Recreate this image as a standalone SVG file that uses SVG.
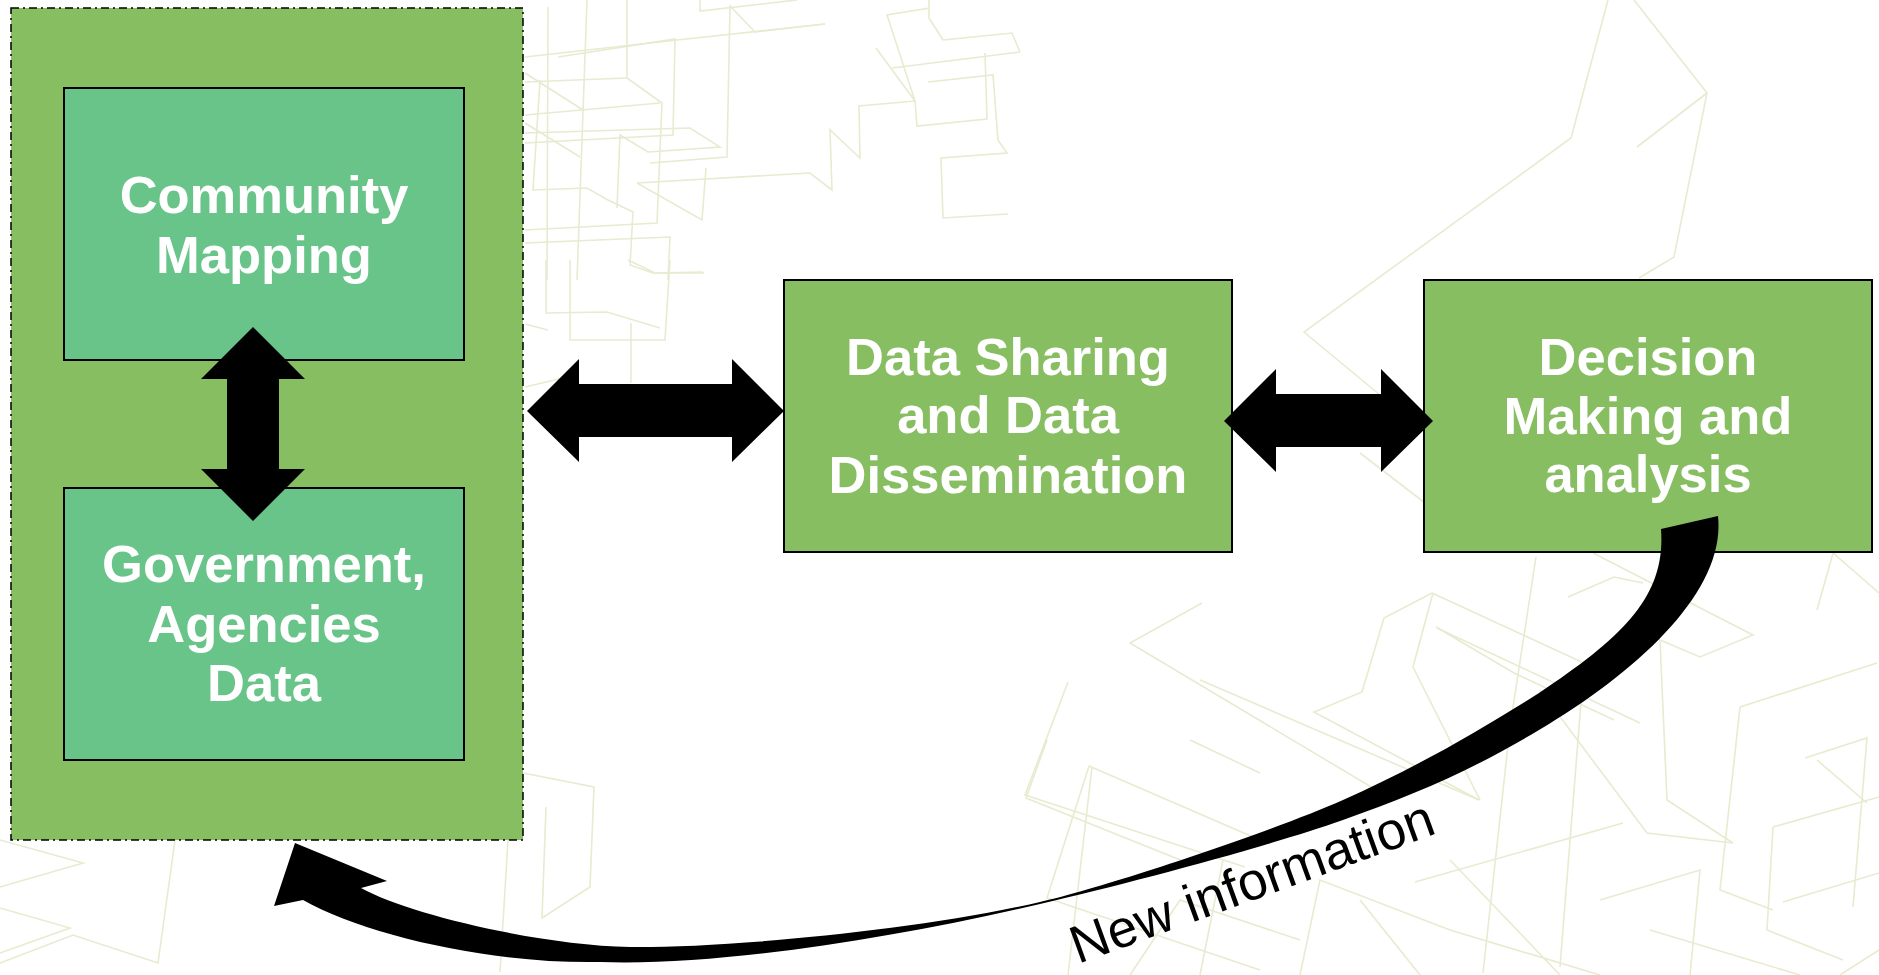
<svg xmlns="http://www.w3.org/2000/svg" width="1879" height="975" viewBox="0 0 1879 975">
<defs>
<style>
.bg{fill:none;stroke:#E7EBD0;stroke-width:1.6;stroke-linejoin:miter}
.box{fill:#88BE62;stroke:#000;stroke-width:2}
.inner{fill:#69C48A;stroke:#000;stroke-width:2}
.lbl{font-family:"Liberation Sans",Arial,sans-serif;font-weight:bold;font-size:52.5px;fill:#fff;text-anchor:middle}
.arrow{fill:#000;stroke:none}
.note{font-family:"Liberation Sans",Arial,sans-serif;font-size:53px;fill:#000}
</style>
</defs>
<rect width="1879" height="975" fill="#fff"/>
<g id="background">
<polyline class="bg" points="525,57 677,40 825,24"/>
<polyline class="bg" points="558,57 675,39 673,135 525,143"/>
<polyline class="bg" points="548,7 547,280"/>
<polyline class="bg" points="587,0 577,280"/>
<polyline class="bg" points="627,0 627,78 662,103 657,223 525,230"/>
<polyline class="bg" points="525,82 627,78"/>
<polyline class="bg" points="525,115 660,103"/>
<polyline class="bg" points="540,80 533,190 587,188 608,200 633,212 630,265 653,273 703,272"/>
<polyline class="bg" points="525,133 690,128 720,147 648,152 620,135 617,208"/>
<polyline class="bg" points="525,73 583,110"/>
<polyline class="bg" points="525,123 580,157"/>
<polyline class="bg" points="637,183 810,173 832,190 830,130 860,158 859,106 915,101 917,126 987,119 985,53"/>
<polyline class="bg" points="637,183 702,220 706,168"/>
<polyline class="bg" points="650,163 727,157 730,6 755,32 825,24"/>
<polyline class="bg" points="525,243 670,237 668,280"/>
<polyline class="bg" points="700,0 700,11 797,0"/>
<polyline class="bg" points="915,101 887,15 930,8"/>
<polyline class="bg" points="892,68 1020,52"/>
<polyline class="bg" points="928,82 993,75 998,140 1007,153 941,158 943,218 1008,214"/>
<polyline class="bg" points="943,40 1012,33 1020,52"/>
<polyline class="bg" points="929,0 929,18 943,40"/>
<polyline class="bg" points="876,48 915,101"/>
<polyline class="bg" points="546,260 546,313 607,312 660,328"/>
<polyline class="bg" points="570,260 570,340 665,340 670,260"/>
<polyline class="bg" points="628,260 655,273 704,273"/>
<polyline class="bg" points="631,323 631,383"/>
<polyline class="bg" points="525,324 548,330"/>
<polyline class="bg" points="525,387 563,378"/>
<polyline class="bg" points="1634,0 1707,93 1674,257 1639,278"/>
<polyline class="bg" points="1707,93 1637,147"/>
<polyline class="bg" points="1608,0 1571,138 1304,332 1380,395"/>
<polyline class="bg" points="1360,453 1425,503"/>
<polyline class="bg" points="1202,603 1130,643 1393,800"/>
<polyline class="bg" points="1068,682 1025,795 1245,867"/>
<polyline class="bg" points="1092,767 1068,975"/>
<polyline class="bg" points="1047,740 1026,798 1188,863"/>
<polyline class="bg" points="1089,766 1260,840"/>
<polyline class="bg" points="1089,766 1047,898 1260,970"/>
<polyline class="bg" points="1190,740 1260,773"/>
<polyline class="bg" points="1223,860 1200,975"/>
<polyline class="bg" points="1536,557 1510,727 1483,973"/>
<polyline class="bg" points="1432,593 1384,618 1362,692 1314,712 1479,800"/>
<polyline class="bg" points="1432,593 1614,677"/>
<polyline class="bg" points="1433,593 1413,667 1480,800"/>
<polyline class="bg" points="1437,628 1640,723"/>
<polyline class="bg" points="1593,553 1753,635 1700,657 1660,640 1667,800 1733,843"/>
<polyline class="bg" points="1740,707 1877,663"/>
<polyline class="bg" points="1740,707 1720,890 1773,910"/>
<polyline class="bg" points="1805,758 1867,738 1853,907"/>
<polyline class="bg" points="1817,760 1867,803"/>
<polyline class="bg" points="1773,827 1879,797"/>
<polyline class="bg" points="1773,827 1767,930 1843,960"/>
<polyline class="bg" points="1783,902 1879,873"/>
<polyline class="bg" points="1817,610 1833,553 1879,593"/>
<polyline class="bg" points="1583,677 1560,967"/>
<polyline class="bg" points="1540,690 1647,833 1733,843"/>
<polyline class="bg" points="1415,882 1623,823"/>
<polyline class="bg" points="1200,680 1479,800"/>
<polyline class="bg" points="1436,627 1514,673 1614,720"/>
<polyline class="bg" points="1568,597 1614,577 1643,583"/>
<polyline class="bg" points="1300,975 1320,880 1450,930 1600,975"/>
<polyline class="bg" points="1600,900 1700,870 1690,975"/>
<polyline class="bg" points="1450,860 1560,975"/>
<polyline class="bg" points="1650,930 1800,975"/>
<polyline class="bg" points="1130,975 1180,900 1300,940"/>
<polyline class="bg" points="1360,900 1420,975"/>
<polyline class="bg" points="1840,975 1879,950"/>
<polyline class="bg" points="0,840 83,863 0,887"/>
<polyline class="bg" points="0,908 70,928 0,953"/>
<polyline class="bg" points="0,963 73,935 158,963 175,840"/>
<polyline class="bg" points="508,840 500,972"/>
<polyline class="bg" points="523,773 594,787 590,887 542,918 546,807"/>
</g>
<g id="node-container">
<rect x="11" y="8" width="512" height="832" fill="#88BE62" stroke="#000" stroke-width="1.5" stroke-dasharray="8 4 2 4"/>
</g>
<g id="node-community-mapping">
<rect class="inner" x="64" y="88" width="400" height="272"/>
<text class="lbl" x="264" y="213">Community</text>
<text class="lbl" x="264" y="273">Mapping</text>
</g>
<g id="node-government-data">
<rect class="inner" x="64" y="488" width="400" height="272"/>
<text class="lbl" x="264" y="582">Government,</text>
<text class="lbl" x="264" y="642">Agencies</text>
<text class="lbl" x="264" y="701">Data</text>
</g>
<g id="node-data-sharing">
<rect class="box" x="784" y="280" width="448" height="272"/>
<text class="lbl" x="1008" y="375">Data Sharing</text>
<text class="lbl" x="1008" y="433">and Data</text>
<text class="lbl" x="1008" y="493">Dissemination</text>
</g>
<g id="node-decision-making">
<rect class="box" x="1424" y="280" width="448" height="272"/>
<text class="lbl" x="1648" y="375">Decision</text>
<text class="lbl" x="1648" y="434">Making and</text>
<text class="lbl" x="1648" y="492">analysis</text>
</g>
<g id="connectors">
<polygon class="arrow" points="253,327 305,379 279,379 279,469 305,469 253,521 201,469 227,469 227,379 201,379"/>
<polygon class="arrow" points="527,411 579,359 579,384 732,384 732,359 784,411 732,462 732,437 579,437 579,462"/>
<polygon class="arrow" points="1224,421 1276,369 1276,394 1381,394 1381,369 1433,421 1381,472 1381,447 1276,447 1276,472"/>
<path class="arrow" d="M1661,529 L1718,516 C1726,590 1640,670 1539,730 C1469,772 1413,795 1343,820 C1263,848 1130,883 1040,904 C890,939 720,966 600,962 C490,964 365,935 303,900 L274,906 L295,843 L387,881 L361,888 C410,915 540,945 630,947 C720,948 910,932 1040,902 C1110,886 1273,831 1343,800 C1413,769 1479,731 1539,693 C1625,636 1666,595 1661,529 Z"/>
<text class="note" transform="translate(1078,964) rotate(-20)">New information</text>
</g>
</svg>
